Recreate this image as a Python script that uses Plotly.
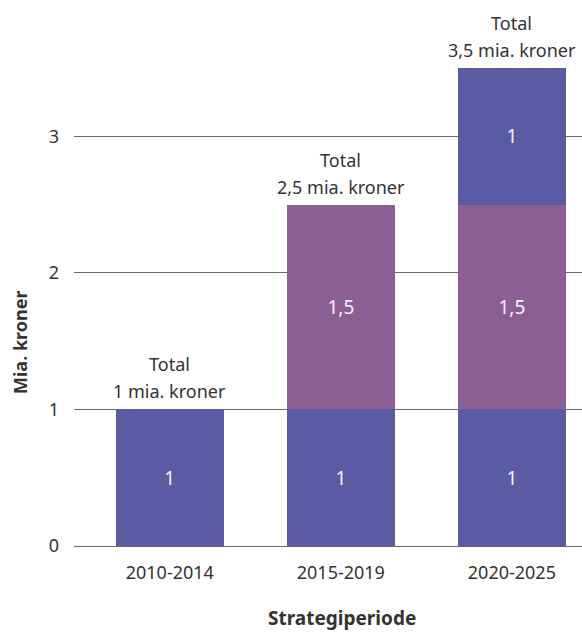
import plotly.graph_objects as go

categories = ["2010-2014", "2015-2019", "2020-2025"]
base_values = [1, 1, 1]
middle_values = [0, 1.5, 1.5]
top_values = [0, 0, 1]
total_heading = "Total"
total_labels = ["1 mia. kroner", "2,5 mia. kroner", "3,5 mia. kroner"]
y_ticks = [0, 1, 2, 3]

BLUE = "#5A5BA3"
PURPLE = "#8B5F93"
FONT = "Noto Sans"
TXT = "#333333"

def fmt(v):
    return "" if v == 0 else (f"{v:g}".replace(".", ","))

fig = go.Figure()
for vals, col in [(base_values, BLUE), (middle_values, PURPLE), (top_values, BLUE)]:
    fig.add_trace(go.Bar(
        x=categories, y=vals, marker=dict(color=col, line=dict(width=0)),
        width=0.63, text=[fmt(v) for v in vals], textposition="inside",
        insidetextanchor="middle", textangle=0,
        textfont=dict(color="#f4f4f8", size=19, family=FONT),
        hoverinfo="skip", showlegend=False,
    ))

totals = [a + b + c for a, b, c in zip(base_values, middle_values, top_values)]
for cat, tot, lab in zip(categories, totals, total_labels):
    fig.add_annotation(x=cat, y=tot, text=lab, showarrow=False, yanchor="bottom",
                       yshift=4, font=dict(size=18, color=TXT, family=FONT))
    fig.add_annotation(x=cat, y=tot, text=total_heading, showarrow=False, yanchor="bottom",
                       yshift=31, font=dict(size=18, color=TXT, family=FONT))

fig.add_annotation(xref="paper", yref="paper", x=(342 - 74) / 508, y=0, yshift=-72, text="<b>Strategiperiode</b>",
                   showarrow=False, font=dict(size=19, color=TXT, family=FONT), yanchor="middle")
fig.add_annotation(xref="paper", yref="paper", x=0, xshift=-54, y=0.5, yshift=-36, text="<b>Mia. kroner</b>",
                   textangle=-90, showarrow=False, font=dict(size=18, color=TXT, family=FONT), xanchor="center")

fig.update_layout(
    barmode="stack", bargap=0.37,
    width=582, height=633,
    margin=dict(l=74, r=0, t=68, b=87),
    plot_bgcolor="white", paper_bgcolor="white",
    font=dict(family=FONT, color=TXT, size=18),
    uniformtext=dict(mode=False),
)
fig.update_xaxes(range=[-0.56, 2.41], showgrid=False, showline=False, ticks="",
                 tickfont=dict(size=18, color=TXT), ticklabelstandoff=14)
fig.update_yaxes(range=[0, 3.5], tickvals=y_ticks, showgrid=True, gridcolor="#6b6b6b", gridwidth=1,
                 zeroline=True, zerolinecolor="#6b6b6b", zerolinewidth=1, showline=False,
                 tickfont=dict(size=18, color=TXT), ticklabelstandoff=14)

fig.write_html("out.html", config={"displayModeBar": False},
               post_script="document.body.style.margin='0';")
